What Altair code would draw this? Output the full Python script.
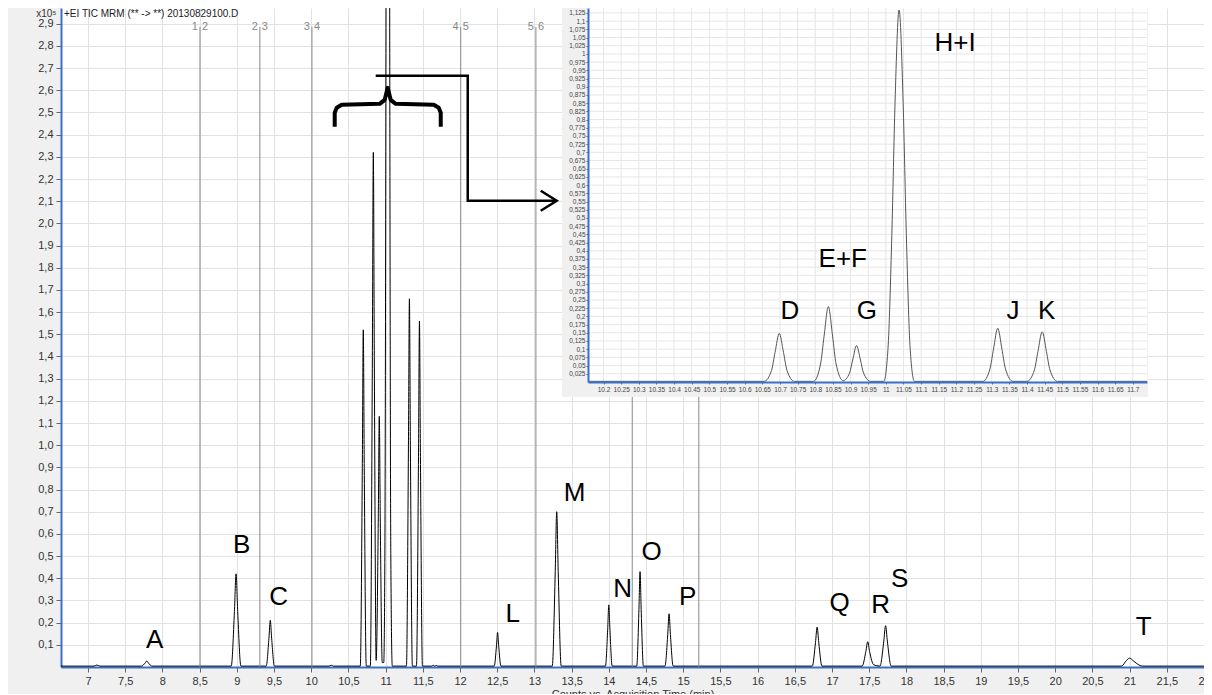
import altair as alt
import pandas as pd

# ---------------- data ----------------
# main TIC trace: time (min) and counts (x10^5)
main_t = [6.637,
          7.08, 7.12, 7.16,
          7.72, 7.765, 7.79, 7.815, 7.86,
          8.925, 8.968, 8.99, 9.012, 9.055,
          9.395, 9.432, 9.45, 9.468, 9.505,
          10.24, 10.27, 10.30,
          10.66, 10.687, 10.70, 10.713, 10.74,
          10.795, 10.822, 10.835, 10.848, 10.873,
          10.902, 10.915, 10.928, 10.955,
          10.975, 10.99, 11.005, 11.017, 11.03, 11.043, 11.055, 11.07, 11.09,
          11.28, 11.307, 11.32, 11.333, 11.36,
          11.415, 11.442, 11.455, 11.468, 11.495,
          11.62, 11.64, 11.66, 11.68, 11.70,
          12.46, 12.49, 12.505, 12.52, 12.55,
          13.24, 13.28, 13.30, 13.32, 13.36,
          13.955, 13.985, 14.0, 14.015, 14.045,
          14.375, 14.405, 14.42, 14.435, 14.465,
          14.755, 14.792, 14.81, 14.828, 14.865,
          16.735, 16.778, 16.80, 16.822, 16.865,
          17.405, 17.455, 17.48, 17.505, 17.56,
          17.645, 17.695, 17.72, 17.745, 17.795,
          20.89, 20.96, 21.0, 21.06, 21.17,
          22.0]
main_v = [0.004,
          0.004, 0.009, 0.004,
          0.004, 0.017, 0.027, 0.017, 0.004,
          0.004, 0.25, 0.42, 0.25, 0.004,
          0.004, 0.13, 0.21, 0.13, 0.004,
          0.004, 0.008, 0.004,
          0.004, 0.9, 1.52, 0.9, 0.004,
          0.004, 1.4, 2.32, 1.4, 0.03,
          0.68, 1.13, 0.68, 0.02,
          0.02, 0.5, 3.0, 6.9, 11.3, 6.9, 3.0, 0.5, 0.004,
          0.004, 1.0, 1.66, 1.0, 0.004,
          0.004, 0.95, 1.56, 0.95, 0.004,
          0.004, 0.008, 0.004, 0.007, 0.004,
          0.004, 0.095, 0.156, 0.095, 0.004,
          0.004, 0.43, 0.70, 0.43, 0.004,
          0.004, 0.17, 0.28, 0.17, 0.004,
          0.004, 0.26, 0.43, 0.26, 0.004,
          0.004, 0.146, 0.24, 0.146, 0.004,
          0.004, 0.11, 0.18, 0.11, 0.004,
          0.004, 0.07, 0.114, 0.07, 0.01,
          0.004, 0.113, 0.186, 0.113, 0.004,
          0.004, 0.03, 0.04, 0.025, 0.004,
          0.004]

# zoomed inset trace: time (min) and counts (x10^6)
inset_t = [10.156,
           10.655, 10.676, 10.686, 10.698, 10.710, 10.720, 10.741,
           10.795, 10.815, 10.825, 10.837, 10.849, 10.859, 10.879,
           10.897, 10.906, 10.917, 10.928, 10.937, 10.957,
           10.994, 11.006, 11.017, 11.026, 11.0375, 11.049, 11.058, 11.069, 11.081,
           11.275, 11.295, 11.305, 11.317, 11.329, 11.339, 11.36,
           11.40, 11.421, 11.431, 11.443, 11.455, 11.465, 11.486,
           11.74]
inset_v = [0.002,
           0.002, 0.035, 0.09, 0.148, 0.09, 0.035, 0.002,
           0.002, 0.055, 0.14, 0.23, 0.14, 0.055, 0.004,
           0.027, 0.067, 0.111, 0.067, 0.027, 0.002,
           0.002, 0.10, 0.45, 0.85, 1.134, 0.85, 0.45, 0.10, 0.002,
           0.002, 0.04, 0.10, 0.164, 0.10, 0.04, 0.002,
           0.002, 0.037, 0.093, 0.153, 0.093, 0.037, 0.002,
           0.002]

main_letters = ["A", "B", "C", "L", "M", "N", "O", "P", "Q", "R", "S", "T"]
main_letter_t = [7.897, 9.066, 9.563, 12.708, 13.541, 14.186, 14.576, 15.060,
                 17.103, 17.654, 17.910, 21.19]
main_letter_v = [0.123, 0.551, 0.317, 0.240, 0.785, 0.353, 0.520, 0.317,
                 0.289, 0.280, 0.398, 0.181]

inset_letters = ["D", "E+F", "G", "H+I", "J", "K"]
inset_letter_t = [10.728, 10.878, 10.946, 11.196, 11.36, 11.456]
inset_letter_v = [0.216, 0.375, 0.216, 1.034, 0.216, 0.216]

segment_t = [8.505, 9.31, 10.01, 12.01, 13.02, 14.315, 15.21]
segment_left = ["1", "2", "3", "4", "5", "6", "7"]
segment_right = ["2", "3", "4", "5", "6", "7", "8"]
segment_label_v = 2.886

brace_t = [10.316, 10.316, 10.343, 10.41, 10.921, 10.988, 11.028, 11.068,
           11.136, 11.647, 11.714, 11.741, 11.741]
brace_v = [2.436, 2.499, 2.521, 2.535, 2.539, 2.557, 2.611, 2.557,
           2.539, 2.535, 2.521, 2.499, 2.436]
arrow_t = [10.867, 12.104, 12.104, 13.286]
arrow_v = [2.665, 2.665, 2.102, 2.102]
head_t = [13.085, 13.30, 13.085]
head_v = [2.147, 2.102, 2.057]

x_ticks = [7 + 0.5 * i for i in range(31)]
y_ticks = [round(0.1 * i, 1) for i in range(1, 30)]
inset_x_ticks = [round(10.2 + 0.05 * i, 2) for i in range(31)]
inset_y_ticks = [round(0.025 * i, 3) for i in range(1, 46)]

inset_domain_t = [10.156, 11.74]
inset_domain_v = [0, 1.14]
inset_panel_t = [10.082, 11.7425]
inset_panel_v = [-0.0457, 1.143]

# ---------------- styling ----------------
FONT = "Liberation Sans"
BLUE = "#3c6fc8"
W, H = 1143, 659

XS = alt.Scale(domain=[6.637, 22.0], nice=False, zero=False)
YS = alt.Scale(domain=[0, 2.971], nice=False, zero=False)
IXS = alt.Scale(domain=inset_domain_t, range=[527, 1086], nice=False, zero=False)
IYS = alt.Scale(domain=inset_domain_v, range=[374, 0], nice=False, zero=False)

ax_x = alt.Axis(values=x_ticks, labelExpr="replace(toString(datum.value), '.', ',')",
                orient="bottom",
                title="Counts vs. Acquisition Time (min)", grid=True, gridColor="#e2e2e2",
                domainColor=BLUE, domainWidth=2, tickColor="#666", tickSize=5, labelPadding=3,
                labelFont=FONT, labelFontSize=11, labelColor="#333", labelFlush=False,
                labelOverlap=False, titleFont=FONT, titleFontSize=11, titleFontWeight="normal",
                titleColor="#333", titlePadding=2)
ax_y = alt.Axis(values=y_ticks, labelExpr="replace(format(datum.value, '.1f'), '.', ',')",
                orient="left",
                title="x10\u2075", titleAngle=0, titleX=-5, titleY=5, titleAlign="right",
                titleBaseline="middle", titleFont=FONT, titleFontSize=10,
                titleFontWeight="normal", titleColor="#333",
                grid=True, gridColor="#e2e2e2", domainColor=BLUE, domainWidth=2,
                tickColor="#666", tickSize=5, labelPadding=3, labelFont=FONT,
                labelFontSize=11, labelColor="#333", labelFlush=False, labelOverlap=False)

iax_x = alt.Axis(values=inset_x_ticks, labelExpr="toString(datum.value)", orient="bottom",
                 offset=374 - H, title=None, grid=False, domainColor=BLUE, domainWidth=2,
                 tickColor="#666", tickSize=2, labelPadding=2, labelFont=FONT,
                 labelFontSize=6.5, labelColor="#444", labelFlush=False, labelOverlap=False,
                 zindex=1)
iax_y = alt.Axis(values=inset_y_ticks, labelExpr="replace(toString(datum.value), '.', ',')",
                 orient="left", offset=-527, title=None, grid=False, domainColor=BLUE,
                 domainWidth=2, tickColor="#666", tickSize=2, labelPadding=1, labelFont=FONT,
                 labelFontSize=6.5, labelColor="#444", labelFlush=False, labelOverlap=False,
                 zindex=1)

# ---------------- main chromatogram ----------------
main_df = pd.DataFrame({"t": main_t, "v": main_v})
seg_df = pd.DataFrame({"t": segment_t, "l": segment_left, "r": segment_right,
                       "v": [segment_label_v] * len(segment_t)})
let_df = pd.DataFrame({"t": main_letter_t, "v": main_letter_v, "s": main_letters})
brace_df = pd.DataFrame({"t": brace_t, "v": brace_v, "i": list(range(len(brace_t)))})
arrow_df = pd.DataFrame({"t": arrow_t, "v": arrow_v, "i": list(range(len(arrow_t)))})
head_df = pd.DataFrame({"t": head_t, "v": head_v, "i": list(range(len(head_t)))})


def mx(axis=None):
    return alt.X("t:Q", scale=XS, axis=axis)


def my(axis=None):
    return alt.Y("v:Q", scale=YS, axis=axis)


trace = alt.Chart(main_df).mark_line(color="black", strokeWidth=1, clip=True,
                                     interpolate="monotone").encode(
    x=mx(ax_x), y=my(ax_y))
seg_rules = alt.Chart(seg_df).mark_rule(color="#888", strokeWidth=1).encode(
    x=mx(), y=alt.Y("v:Q", scale=YS, axis=None), y2=alt.datum(0))
seg_l = alt.Chart(seg_df).mark_text(align="right", dx=-2, fontSize=11, font=FONT,
                                    color="#888").encode(x=mx(), y=my(), text="l:N")
seg_r = alt.Chart(seg_df).mark_text(align="left", dx=2, fontSize=11, font=FONT,
                                    color="#888").encode(x=mx(), y=my(), text="r:N")
letters = alt.Chart(let_df).mark_text(fontSize=26, font=FONT, color="black",
                                      align="center", baseline="middle").encode(
    x=mx(), y=my(), text="s:N")
brace = alt.Chart(brace_df).mark_line(color="black", strokeWidth=4, strokeJoin="round").encode(
    x=mx(), y=my(), order="i:Q")
arrow = alt.Chart(arrow_df).mark_line(color="black", strokeWidth=2.5, strokeJoin="miter").encode(
    x=mx(), y=my(), order="i:Q")
head = alt.Chart(head_df).mark_line(color="black", strokeWidth=2.5, strokeJoin="miter").encode(
    x=mx(), y=my(), order="i:Q")

# ---------------- inset ----------------
panel_df = pd.DataFrame({"t": [inset_panel_t[0]], "t2": [inset_panel_t[1]],
                         "v": [inset_panel_v[0]], "v2": [inset_panel_v[1]]})
plot_df = pd.DataFrame({"t": [inset_domain_t[0]], "t2": [inset_domain_t[1]],
                        "v": [inset_domain_v[0]], "v2": [inset_domain_v[1]]})
grid_rows = []
for g in inset_x_ticks:
    grid_rows.append({"t": g, "t2": g, "v": inset_domain_v[0], "v2": inset_domain_v[1]})
for g in inset_y_ticks:
    grid_rows.append({"t": inset_domain_t[0], "t2": inset_domain_t[1], "v": g, "v2": g})
grid_df = pd.DataFrame(grid_rows)
inset_df = pd.DataFrame({"t": inset_t, "v": inset_v})
ilet_df = pd.DataFrame({"t": inset_letter_t, "v": inset_letter_v, "s": inset_letters})


def ix(axis=None):
    return alt.X("t:Q", scale=IXS, axis=axis)


def iy(axis=None):
    return alt.Y("v:Q", scale=IYS, axis=axis)


panel = alt.Chart(panel_df).mark_rect(color="#f0f0f0").encode(
    x=ix(), x2="t2:Q", y=iy(), y2="v2:Q")
plotbg = alt.Chart(plot_df).mark_rect(color="white").encode(
    x=ix(), x2="t2:Q", y=iy(), y2="v2:Q")
igrid = alt.Chart(grid_df).mark_rule(color="#e6e6e6", strokeWidth=1).encode(
    x=ix(), x2="t2:Q", y=iy(), y2="v2:Q")
itrace = alt.Chart(inset_df).mark_line(color="#555", strokeWidth=1,
                                       interpolate="monotone").encode(
    x=ix(iax_x), y=iy(iax_y))
iletters = alt.Chart(ilet_df).mark_text(fontSize=26, font=FONT, color="black",
                                        align="center", baseline="middle").encode(
    x=ix(), y=iy(), text="s:N")

chart = alt.layer(
    trace, seg_rules, seg_l, seg_r, letters, brace, arrow, head,
    panel, plotbg, igrid, itrace, iletters
).resolve_scale(
    x="independent", y="independent"
).properties(
    width=W, height=H,
    autosize=alt.AutoSizeParams(type="none"),
    padding={"left": 53, "top": 0, "right": 0, "bottom": 27},
    background="#f0f0f0",
    title=alt.TitleParams("+EI TIC MRM (** -> **) 20130829100.D", anchor="start",
                          frame="group", offset=-12, dx=3, fontSize=10,
                          font=FONT, fontWeight="normal", color="#222"),
).configure_view(strokeWidth=0, fill="white")

chart.save("out.html", embed_options={"renderer": "svg", "actions": False})
